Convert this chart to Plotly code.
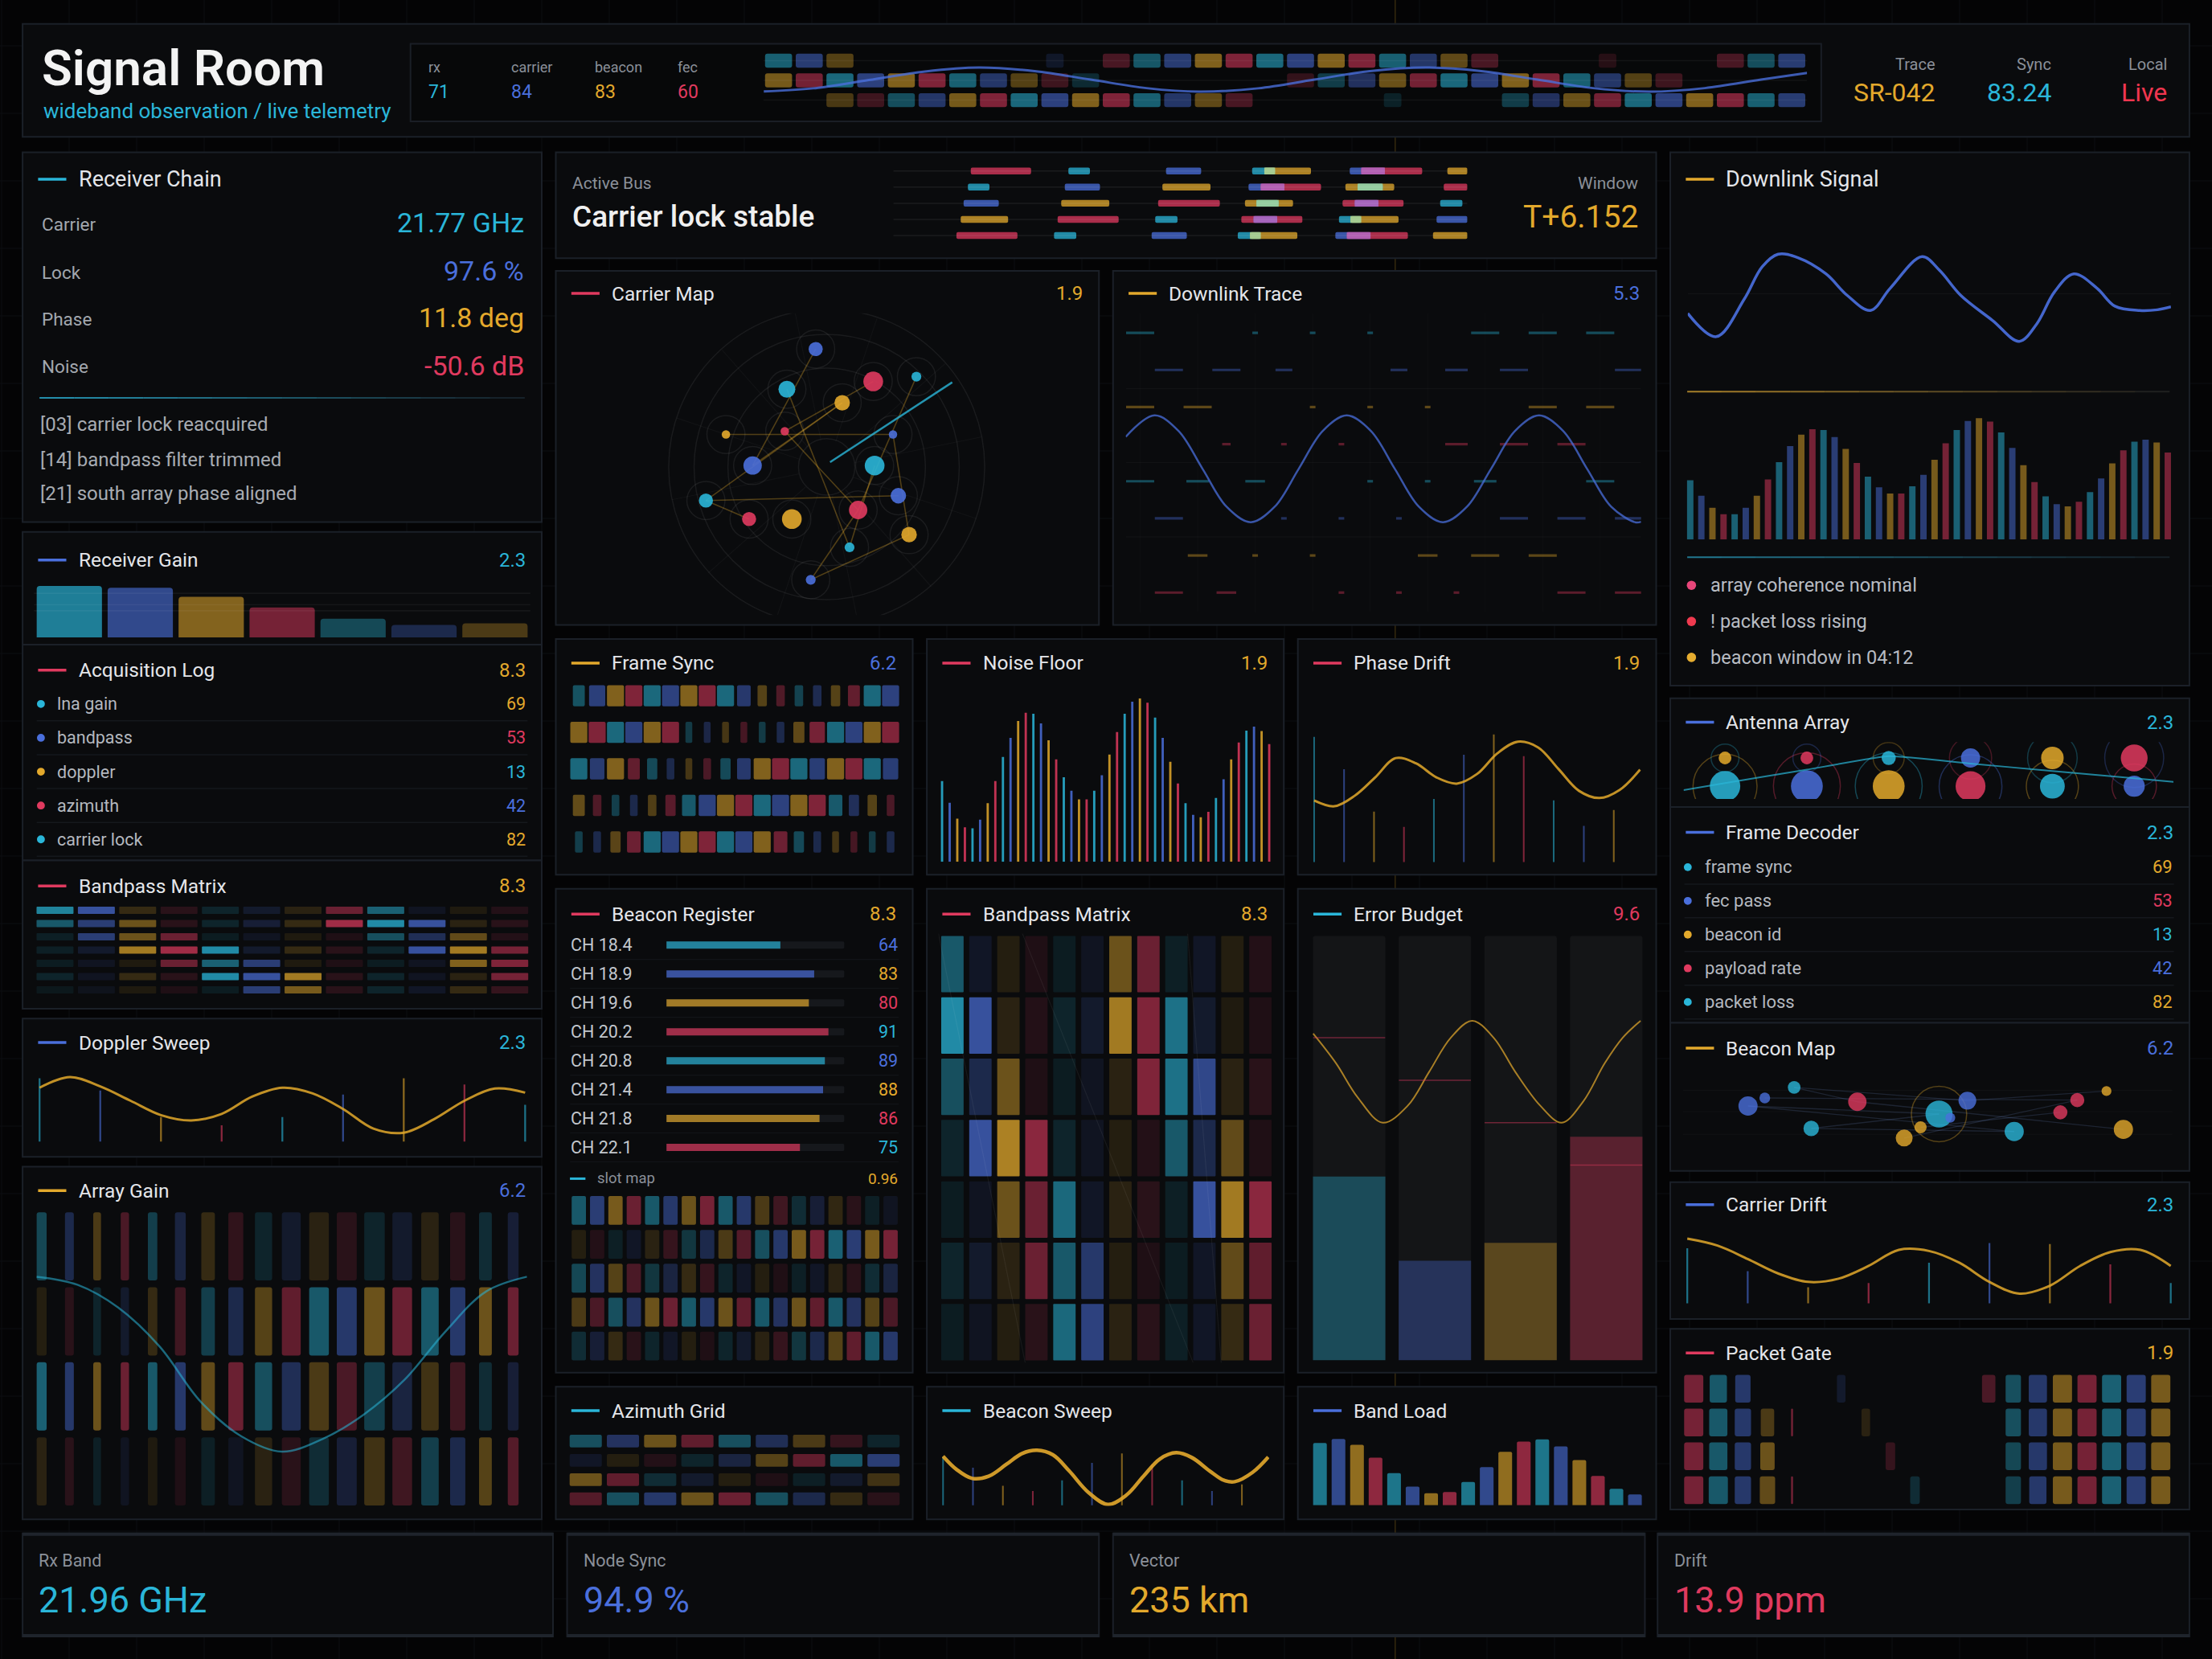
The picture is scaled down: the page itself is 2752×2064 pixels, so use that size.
import math
import plotly.graph_objects as go

W, H = 2752, 2064
S = W / 1568.0


def X(x):
    return x / 1568.0


def Y(y):
    return 1.0 - y / 1176.0


CY, BL, GD, RD = '#2ab6d9', '#4a6fdc', '#e3a92c', '#e03a5f'
PAL = [CY, BL, GD, RD]
TXT, MUTED, SOFT = '#e4e6ea', '#8b9099', '#b4b8bf'
FONT = 'Roboto'


def rgba(c, a):
    c = c.lstrip('#')
    return 'rgba(%d,%d,%d,%.3f)' % (int(c[0:2], 16), int(c[2:4], 16), int(c[4:6], 16), a)


# ============================ DATA ============================
header_labels = ['rx', 'carrier', 'beacon', 'fec']
header_values = ['71', '84', '83', '60']
meta_labels = ['Trace', 'Sync', 'Local']
meta_values = ['SR-042', '83.24', 'Live']

strip_r0 = [.5, .5, .35, 0, 0, 0, 0, 0, 0, .15, 0, .3, .45, .5, .55, .55, .55, .55, .55, .55, .5, .45, .4, .3, 0, 0, 0, .15, 0, 0, 0, .3, .4, .5]
strip_r1 = [.5, .5, .55, .55, .55, .55, .5, .45, .35, .25, .2, 0, 0, 0, 0, 0, 0, .2, .3, .4, .45, .5, .55, .55, .55, .55, .5, .45, .35, .25, 0, 0, 0, 0]
strip_r2 = [0, 0, .3, .25, .4, .45, .5, .55, .55, .55, .55, .55, .5, .45, .4, .3, 0, 0, 0, 0, .15, 0, 0, 0, .3, .4, .45, .5, .55, .55, .55, .55, .5, .5]
strip_wave_x = [-0.48, 1.13, 2.94, 4.77, 6.53, 8.34, 10.17, 11.98, 13.70, 15.62, 17.45, 19.26, 21.08, 22.89, 24.72, 26.53, 28.36, 30.17, 32.0, 33.5]
strip_wave_y = [1.56, 1.40, 0.98, 0.55, 0.35, 0.53, 0.96, 1.39, 1.57, 1.40, 0.96, 0.53, 0.35, 0.53, 0.96, 1.39, 1.57, 1.39, 0.96, 0.62]

rc_labels = ['Carrier', 'Lock', 'Phase', 'Noise']
rc_values = ['21.77 GHz', '97.6 %', '11.8 deg', '-50.6 dB']
rc_log = ['[03] carrier lock reacquired', '[14] bandpass filter trimmed', '[21] south array phase aligned']

gain_levels = [91, 88, 72, 53, 33, 22, 25]
gain_alpha = [0.68, 0.62, 0.56, 0.5, 0.36, 0.3, 0.3]

acq_labels = ['lna gain', 'bandpass', 'doppler', 'azimuth', 'carrier lock']
acq_values = [69, 53, 13, 42, 82]

bp_left = [
    [.7, .7, .2, .15, .15, .15, .15, .45, .5, .1, .1, .12],
    [.45, .5, .45, .15, .15, .2, .2, .7, .75, .7, .15, .15],
    [.12, .5, .45, .45, .1, .1, .1, .1, .4, .35, .4, .12],
    [.12, .15, .7, .7, .75, .15, .2, .15, .15, .7, .7, .5],
    [.1, .1, .1, .45, .5, .5, .1, .1, .1, .1, .55, .55],
    [.15, .1, .2, .15, .75, .7, .7, .15, .15, .1, .15, .5],
    [.08, .08, .1, .1, .1, .5, .5, .15, .15, .12, .2, .2],
]

doppler_wave = [122, 148, 125, 90, 55, 42, 58, 100, 122, 108, 70, 22, 12, 45, 90, 120, 110]
doppler_spikes = [145, 115, 50, 30, 50, 105, 145, 130, 80]

ag_widths = [0.36, 0.32, 0.28, 0.30, 0.34, 0.39, 0.49, 0.54, 0.62, 0.68, 0.71, 0.72, 0.74, 0.71, 0.63, 0.55, 0.46, 0.39]
ag_alpha = [
    [.35, .3, .3, .3, .3, .25, .2, .18, .15, .15, .15, .15, .15, .15, .15, .15, .2, .2],
    [.12, .15, .15, .15, .2, .25, .3, .3, .35, .4, .45, .45, .45, .45, .45, .45, .45, .45],
    [.5, .45, .45, .45, .45, .45, .4, .45, .4, .35, .3, .3, .3, .25, .25, .25, .2, .2],
    [.15, .15, .12, .1, .1, .1, .12, .1, .15, .15, .2, .2, .25, .25, .3, .3, .35, .35],
]
ag_wave_x = [-0.18, 1.29, 2.76, 4.25, 5.72, 7.19, 8.66, 10.14, 11.61, 13.08, 14.55, 16.03, 17.5]
ag_wave_y = [0.405, 0.512, 0.816, 1.334, 2.065, 2.53, 2.736, 2.566, 2.243, 1.78, 1.138, 0.6, 0.405]

bus_start = [
    [108, 244, 380, 500, 517, 636, 652, 772],
    [104, 239, 375, 495, 512, 630, 647, 767],
    [98, 234, 369, 490, 506, 626, 643, 762],
    [94, 229, 365, 485, 502, 621, 637, 757],
    [88, 224, 360, 480, 497, 616, 632, 752],
]
bus_end = [
    [192, 274, 429, 532, 582, 685, 737, 800],
    [134, 288, 442, 545, 596, 698, 682, 800],
    [147, 301, 455, 557, 537, 711, 676, 793],
    [160, 314, 396, 570, 535, 652, 704, 800],
    [173, 255, 409, 512, 563, 665, 717, 800],
]
bus_color = [
    [3, 0, 1, 0, 2, 1, 3, 2],
    [0, 1, 2, 1, 3, 2, 0, 3],
    [1, 2, 3, 2, 0, 3, 1, 0],
    [2, 3, 0, 3, 1, 0, 2, 1],
    [3, 0, 1, 0, 2, 1, 3, 2],
]

cm_x = [-7.8, -28.2, 33, 63.6, 11, -71.4, -29.7, 47, -52.5, 34, -85.6, 50.8, -55, -24.7, 22.3, 58.4, 16.2, -11.3]
cm_y = [80.6, 52.1, 57.6, 61, 42.5, 20, 22.3, 20, -2, -2, -26.8, -23.4, -39.9, -39.9, -33.5, -51, -60, -83]
cm_r = [5, 6, 7, 3.5, 5.5, 3, 3, 3, 6.5, 7, 5, 5.5, 5, 7, 6.5, 5.5, 3.5, 3.5]
cm_c = [1, 0, 3, 0, 2, 2, 3, 1, 1, 0, 0, 1, 3, 2, 3, 2, 0, 1]
cm_edges = [(0, 8), (1, 16), (5, 7), (10, 11), (10, 12), (6, 14), (4, 10), (2, 6), (3, 14), (7, 15), (14, 17), (15, 17), (4, 8), (9, 16)]
cm_link_x = [2.4, 89]
cm_link_y = [0.4, 57]

dt_ticks = [
    [1, 0, 0.15, 0.15, 0.15, 0, 1, 1, 1],
    [1, 1, 0.6, 0, 0.6, 0.8, 1, 0, 1],
    [1, 1, 0, 0.15, 0.15, 0.15, 0, 1, 1],
    [0, 0.3, 0.2, 0.2, 0, 0.8, 1, 1, 0],
    [1, 0.8, 0.7, 0, 0.2, 0.2, 0.8, 0, 1],
    [1, 0, 0.2, 0.2, 0.2, 0, 1, 1, 1],
    [0, 0.7, 0.2, 0.2, 0, 0.7, 1, 1, 0],
    [1, 0.7, 0, 0.2, 0.2, 0.2, 0, 1, 1],
]
dt_wave_x = [0, 5.58, 10.24, 14.91, 19.57, 24.24, 28.90, 33.56, 38.23, 42.89, 47.56, 52.22, 56.89, 61.55, 66.21, 70.88, 75.54, 80.21, 84.87, 89.53, 94.20, 98.86, 100]
dt_wave_y = [0.6, 1, .71, 0, -.71, -1, -.71, 0, .71, 1, .71, 0, -.71, -1, -.71, 0, .71, 1, .71, 0, -.71, -1, -.99]

dl_x = [0, 5.9, 11.7, 15.4, 18.7, 22.8, 28.6, 33, 37.8, 41.9, 48.5, 52.1, 56.5, 63.1, 68.6, 72.2, 75.9, 79.9, 84.7, 88.4, 93.5, 97.2, 100]
dl_y = [90, 25, 130, 220, 255, 245, 200, 140, 98, 160, 248, 210, 140, 70, 12, 60, 150, 200, 160, 110, 98, 100, 108]
dl_bars = [165, 122, 88, 70, 70, 88, 122, 167, 215, 260, 292, 307, 305, 285, 252, 213, 175, 145, 128, 128, 148, 180,
           222, 268, 305, 330, 338, 328, 298, 255, 207, 160, 120, 98, 92, 105, 132, 170, 212, 248, 272, 278, 270, 242]
alerts = ['array coherence nominal', '! packet loss rising', 'beacon window in 04:12']
alert_colors = ['#e8467a', '#f03a4f', '#e6ad30']

fs_w = [
    [0.7, 0.95, 1, 1, 1, 1, 1, 1, 1, 0.8, 0.55, 0.5, 0.5, 0.5, 0.55, 0.7, 1, 1],
    [1, 1, 1, 1, 1, 1, 0.4, 0.4, 0.4, 0.4, 0.4, 0.45, 0.65, 0.9, 1, 1, 1, 1],
    [1, 0.85, 1, 0.7, 0.6, 0.45, 0.4, 0.45, 0.6, 0.8, 1, 1, 1, 0.9, 1, 1, 1, 0.9],
    [0.7, 0.5, 0.45, 0.45, 0.5, 0.6, 0.8, 1, 1, 1, 1, 1, 1, 1, 0.8, 0.6, 0.55, 0.45],
    [0.45, 0.45, 0.6, 0.8, 1, 1, 1, 1, 1, 1, 1, 0.8, 0.6, 0.45, 0.4, 0.4, 0.4, 0.45],
]

noise_levels = [168, 123, 90, 72, 70, 88, 122, 168, 218, 258, 293, 310, 308, 288, 253, 213, 176, 148, 130, 130, 148, 180,
                223, 270, 308, 333, 340, 331, 300, 258, 208, 163, 122, 98, 93, 104, 133, 172, 213, 248, 273, 281, 272, 245]

pd_wave = [140, 128, 150, 188, 228, 217, 188, 175, 195, 238, 262, 250, 205, 160, 145, 162, 204]
pd_spike_x = [0, 1.47, 2.94, 4.41, 5.88, 7.35, 8.82, 10.29, 11.76, 13.24, 14.71]
pd_spike_h = [272, 205, 117, 85, 143, 235, 277, 232, 140, 87, 120]

br_labels = ['CH 18.4', 'CH 18.9', 'CH 19.6', 'CH 20.2', 'CH 20.8', 'CH 21.4', 'CH 21.8', 'CH 22.1']
br_values = [64, 83, 80, 91, 89, 88, 86, 75]
slot_alpha = [
    [.45, .5, .5, .45, .45, .45, .45, .5, .45, .45, .3, .25, .2, .2, .18, .15, .12, .1],
    [.12, .12, .12, .12, .15, .2, .25, .3, .3, .35, .4, .45, .5, .5, .5, .5, .5, .5],
    [.35, .4, .35, .3, .25, .25, .2, .2, .15, .12, .12, .1, .12, .12, .15, .15, .2, .25],
    [.3, .3, .4, .4, .45, .45, .45, .45, .45, .4, .45, .4, .45, .4, .45, .4, .35, .3],
    [.2, .2, .2, .15, .15, .12, .12, .1, .15, .15, .15, .2, .25, .3, .35, .4, .45, .45],
]

bp_center = [
    [.45, .12, .12, .1, .1, .1, .45, .45, .12, .12, .12, .12],
    [.75, .7, .15, .12, .15, .15, .7, .55, .6, .15, .1, .1],
    [.4, .3, .45, .1, .1, .1, .15, .55, .6, .6, .15, .15],
    [.15, .7, .75, .6, .15, .1, .12, .12, .45, .3, .4, .1],
    [.1, .1, .45, .45, .55, .12, .15, .15, .12, .7, .7, .6],
    [.15, .15, .15, .45, .45, .45, .12, .1, .1, .12, .4, .4],
    [.1, .1, .12, .15, .55, .55, .15, .15, .12, .12, .2, .45],
]

eb_fill = [43.3, 23.5, 27.7, 52.7]
eb_limit = [76, 66, 56, 46]
eb_wave_x = [-0.42, -0.153, 0.098, 0.391, 0.683, 0.934, 1.185, 1.436, 1.686, 1.937, 2.23, 2.48, 2.731, 2.982, 3.191, 3.40]
eb_wave_y = [77, 70, 62, 56, 60, 68, 76, 80, 76, 68, 60, 56, 61, 70, 76, 80]

az_alpha = [
    [.4, .4, .45, .4, .4, .35, .3, .2, .15],
    [.12, .12, .12, .15, .25, .35, .4, .45, .5],
    [.45, .4, .2, .15, .12, .1, .12, .15, .25],
    [.35, .4, .45, .45, .45, .4, .3, .2, .15],
]

bs_wave_x = [0, 4.2, 9.0, 14.0, 19.5, 24.3, 28.9, 33.8, 38.8, 44.7, 50.7, 56.4, 61.6, 66.7, 71.7, 76.5, 82.0, 86.4, 89.7, 95.2, 100]
bs_wave_y = [215, 165, 132, 140, 185, 225, 237, 220, 160, 80, 35, 70, 140, 205, 228, 210, 160, 125, 120, 155, 212]
bs_spike_x = [0, 9.2, 18.4, 27.6, 36.6, 45.8, 55.0, 64.3, 73.5, 82.7, 91.9]
bs_spike_h = [210, 172, 105, 85, 125, 190, 225, 185, 125, 85, 110]

band_load = [233, 248, 226, 178, 120, 70, 45, 50, 87, 143, 200, 238, 246, 220, 169, 110, 62, 41]

ant_big_r = [10.8, 11.3, 11.3, 10.6, 8.8, 7.5]
ant_small_r = [4.5, 4.5, 5.0, 6.8, 8.0, 9.5]
ant_big_c = [0, 1, 2, 3, 0, 1]
ant_small_c = [2, 3, 0, 1, 2, 3]
ant_line_x = [-0.507, 0, 1, 2, 3, 4, 5, 5.48]
ant_line_y = [0.11, 0.195, 0.359, 0.524, 0.433, 0.343, 0.253, 0.209]

fd_labels = ['frame sync', 'fec pass', 'beacon id', 'payload rate', 'packet loss']
fd_values = [69, 53, 13, 42, 82]

bm_x = [46.1, 58.0, 78.8, 90.9, 123.6, 156.8, 168.4, 181.5, 189.5, 201.6, 234.8, 267.5, 279.5, 300.2, 312.2]
bm_y = [38.0, 43.7, 51.2, 22.1, 41.0, 15.3, 22.9, 32.3, 29.7, 41.8, 19.9, 33.5, 42.2, 48.6, 21.4]
bm_r = [6.8, 3.8, 4.5, 5.5, 6.5, 6.0, 4.3, 9.6, 3.5, 6.3, 6.8, 5.0, 5.0, 3.5, 6.8]
bm_c = [1, 1, 0, 0, 3, 2, 2, 0, 1, 1, 0, 3, 3, 2, 2]
bm_edges = [(0, 10), (1, 12), (2, 9), (3, 7), (4, 14), (2, 4), (9, 13), (6, 11), (3, 10), (0, 7), (5, 12)]

cd_wave = [133, 120, 95, 68, 52, 58, 82, 112, 110, 88, 52, 30, 45, 82, 108, 112, 82]
cd_spikes = [115, 72, 42, 50, 88, 125, 123, 85, 50]

pg_w = [
    [1, 0.9, 0.8, 0, 0, 0, 0.45, 0, 0, 0, 0, 0, 0.7, 0.8, 0.95, 1, 1, 1, 1, 1],
    [1, 0.95, 0.85, 0.7, 0.1, 0, 0, 0.45, 0, 0, 0, 0, 0, 0.8, 0.95, 1, 1, 1, 1, 1],
    [1, 0.95, 0.85, 0.75, 0, 0, 0, 0, 0.5, 0, 0, 0, 0, 0.8, 0.95, 1, 1, 1, 1, 1],
    [1, 1, 0.85, 0.8, 0.1, 0, 0, 0, 0, 0.5, 0, 0, 0, 0.8, 0.9, 1, 1, 1, 1, 1],
]
pg_a = [
    [.5, .45, .45, 0, 0, 0, .15, 0, 0, 0, 0, 0, .3, .4, .45, .5, .5, .5, .5, .5],
    [.5, .45, .45, .3, .5, 0, 0, .15, 0, 0, 0, 0, 0, .4, .45, .5, .5, .5, .5, .5],
    [.5, .45, .45, .45, 0, 0, 0, 0, .2, 0, 0, 0, 0, .35, .45, .5, .5, .5, .5, .5],
    [.5, .45, .45, .4, .5, 0, 0, 0, 0, .2, 0, 0, 0, .3, .45, .5, .5, .5, .5, .5],
]

kpi_labels = ['Rx Band', 'Node Sync', 'Vector', 'Drift']
kpi_values = ['21.96 GHz', '94.9 %', '235 km', '13.9 ppm']

# ============================ BUILD ============================
traces, shapes, annotations = [], [], []
layout = {}
naxes = [0]


def add_axes(x0, y0, x1, y1, xr, yr):
    naxes[0] += 1
    n = naxes[0]
    sfx = '' if n == 1 else str(n)
    layout['xaxis' + sfx] = dict(domain=[X(x0), X(x1)], range=xr, anchor='y' + sfx, visible=False, fixedrange=True)
    layout['yaxis' + sfx] = dict(domain=[Y(y1), Y(y0)], range=yr, anchor='x' + sfx, visible=False, fixedrange=True)
    return ('x' + sfx, 'y' + sfx)


def rect(x0, y0, x1, y1, fill, line=None, lw=0, layer='below'):
    shapes.append(dict(type='rect', xref='paper', yref='paper', x0=X(x0), x1=X(x1), y0=Y(y1), y1=Y(y0),
                       fillcolor=fill, line=dict(color=line or 'rgba(0,0,0,0)', width=lw), layer=layer))


def seg(x0, y0, x1, y1, color, w, layer='above'):
    shapes.append(dict(type='line', xref='paper', yref='paper', x0=X(x0), x1=X(x1), y0=Y(y0), y1=Y(y1),
                       line=dict(color=color, width=w), layer=layer))


def dot(x, y, r, color):
    shapes.append(dict(type='circle', xref='paper', yref='paper', x0=X(x - r), x1=X(x + r), y0=Y(y + r), y1=Y(y - r),
                       fillcolor=color, line=dict(width=0), layer='above'))


def text(x, y, s, size, color, anchor='left', weight=None):
    f = dict(family=FONT, size=size, color=color)
    if weight:
        f['weight'] = weight
    annotations.append(dict(xref='paper', yref='paper', x=X(x), y=Y(y), text=s, showarrow=False,
                            xanchor=anchor, yanchor='middle', font=f, borderpad=0))


def panel(x0, y0, x1, y1, fill='#0a0b0d', border='#1b2028'):
    rect(x0, y0, x1, y1, fill, border, 2)


def head(x0, y0, x1, name, dash, value=None, vcolor=None, dy=18, size=24.5):
    y = y0 + dy
    seg(x0 + 11, y, x0 + 31, y, dash, 3.5)
    text(x0 + 39, y, name, size, TXT)
    if value is not None:
        text(x1 - 11, y, value, 24, vcolor, anchor='right')


def fade_line(x0, x1, y, color, a0=0.8, n=14, w=2):
    seg(x0, y, x1, y, '#161a20', w)
    step = (x1 - x0) / n
    for i in range(n):
        seg(x0 + i * step, y, x0 + (i + 1) * step, y, rgba(color, a0 * (1 - i / n)), w)


def bars(ax, x, y, base=None, width=None, colors=None, orientation='v', radius=0):
    traces.append(go.Bar(x=x, y=y, base=base, width=width, orientation=orientation,
                         marker=dict(color=colors, line=dict(width=0), cornerradius=radius),
                         xaxis=ax[0], yaxis=ax[1], hoverinfo='skip', showlegend=False))


def lines(ax, x, y, color, width, shape='spline', smoothing=1.0):
    traces.append(go.Scatter(x=x, y=y, mode='lines', line=dict(color=color, width=width, shape=shape, smoothing=smoothing),
                             xaxis=ax[0], yaxis=ax[1], hoverinfo='skip', showlegend=False))


def grid_tiles(ax, alphas, offsets, wfac, hfac, widths=None, radius=2):
    xs, ys, bs, ws, cs = [], [], [], [], []
    for r, row in enumerate(alphas):
        for c, a in enumerate(row):
            if a <= 0:
                continue
            wf = widths[r][c] if widths is not None else 1.0
            if wf <= 0:
                continue
            xs.append(c)
            bs.append(r - hfac / 2)
            ys.append(hfac)
            ws.append(wfac * wf)
            cs.append(rgba(PAL[(c + offsets[r]) % 4], a))
    bars(ax, xs, ys, base=bs, width=ws, colors=cs, radius=radius)


def spikes(ax, xs, tops, base, width, alpha=0.6):
    bars(ax, xs, [t - base for t in tops], base=[base] * len(xs), width=width,
         colors=[rgba(PAL[i % 4], alpha) for i in range(len(xs))])


# ---------- background grid ----------
for k in range(34):
    xx = (2 + 84 * k) / S
    seg(xx, 0, xx, 1176, '#0d0f12', 1, layer='below')
for k in range(25):
    yy = (57 + 84 * k) / S
    seg(0, yy, 1568, yy, '#0d0f12', 1, layer='below')
seg(989, 0, 989, 1176, 'rgba(227,169,44,0.22)', 1.5, layer='below')

# ---------- panels ----------
panel(16, 17, 1552, 97)
panel(291, 31, 1291, 86, fill='#070809', border='#1a1e26')
panel(16, 108, 384, 370)
panel(16, 377, 384, 457)
panel(16, 457, 384, 610)
panel(16, 610, 384, 715)
panel(16, 722, 384, 820)
panel(16, 827, 384, 1077)
panel(394, 108, 1174, 183)
panel(394, 192, 779, 443)
panel(789, 192, 1174, 443)
panel(394, 453, 647, 620)
panel(657, 453, 910, 620)
panel(920, 453, 1174, 620)
panel(394, 630, 647, 973)
panel(657, 630, 910, 973)
panel(920, 630, 1174, 973)
panel(394, 983, 647, 1077)
panel(657, 983, 910, 1077)
panel(920, 983, 1174, 1077)
panel(1184, 108, 1552, 486)
panel(1184, 495, 1552, 572)
panel(1184, 572, 1552, 725)
panel(1184, 725, 1552, 830)
panel(1184, 838, 1552, 935)
panel(1184, 942, 1552, 1070)
kpi_boxes = [(16, 392), (402, 779), (789, 1166), (1175, 1552)]
for (a, b) in kpi_boxes:
    panel(a, 1087, b, 1160)
    seg(a, 1087.5, b, 1087.5, '#1f242c', 4, layer='below')
    seg(a, 1159.5, b, 1159.5, '#1f242c', 4, layer='below')

# ---------- header ----------
text(29, 48, 'Signal Room', 62, '#f3f3f3', weight=600)
text(30, 78.6, 'wideband observation / live telemetry', 26, CY)
for i, (lab, val) in enumerate(zip(header_labels, header_values)):
    hx = [303, 362, 421, 480][i]
    text(hx, 47.5, lab, 18, MUTED)
    text(hx, 65, val, 23, PAL[i])
for i, (lab, val) in enumerate(zip(meta_labels, meta_values)):
    hx = [1372.6, 1454.7, 1536.7][i]
    text(hx, 45.3, lab, 20, MUTED, anchor='right')
    text(hx, 65.5, val, 32, [GD, CY, '#f0364f'][i], anchor='right')

ax = add_axes(541, 36, 1281, 78, [-0.5, 33.5], [2.5, -0.5])
strip = [strip_r0, strip_r1, strip_r2]
strip_w = [[1.0 if a >= 0.2 else 0.65 for a in row] for row in strip]
for r in range(3):
    lines(ax, [-0.5, 33.5], [r, r], 'rgba(255,255,255,0.05)', 1.5, shape='linear')
grid_tiles(ax, strip, [0, 2, 0], 0.88, 0.71, widths=strip_w, radius=3)
lines(ax, strip_wave_x, strip_wave_y, rgba(BL, 0.8), 3)

# ---------- receiver chain ----------
head(16, 108, 384, 'Receiver Chain', CY, dy=19, size=27)
for i, (lab, val) in enumerate(zip(rc_labels, rc_values)):
    yy = [159, 193, 226, 260][i]
    text(29, yy, lab, 22.5, '#a2a7ae')
    text(372, yy - 1, val, 34, PAL[i], anchor='right')
fade_line(28, 372, 282, CY, a0=0.75)
for i, s in enumerate(rc_log):
    text(28, [301, 326, 350][i], s, 24, '#a7abb2')

# ---------- receiver gain ----------
head(16, 380, 384, 'Receiver Gain', BL, '2.3', CY, dy=17)
ax = add_axes(24, 411.8, 376, 451.8, [-0.5, 6.5], [0, 100])
bars(ax, list(range(7)), gain_levels, width=0.92,
     colors=[rgba(PAL[i % 4], gain_alpha[i]) for i in range(7)], radius=4)
for lv in [78, 58, 47]:
    lines(ax, [-0.5, 6.5], [lv, lv], 'rgba(255,255,255,0.07)', 1.2, shape='linear')

# ---------- acquisition log ----------
head(16, 457, 384, 'Acquisition Log', RD, '8.3', GD, dy=18)
for i, (lab, val) in enumerate(zip(acq_labels, acq_values)):
    yy = 499 + 24 * i
    dot(29, yy, 2.8, PAL[i % 4])
    text(40, yy, lab, 21.5, SOFT)
    text(373, yy, str(val), 21.5, PAL[(i + 2) % 4], anchor='right')
    seg(26, yy + 12, 374, yy + 12, '#15181d', 1.5)

# ---------- bandpass matrix (left) ----------
head(16, 610, 384, 'Bandpass Matrix', RD, '8.3', GD, dy=18)
ax = add_axes(24.35, 640.6, 376, 706.4, [-0.5, 11.5], [6.5, -0.5])
grid_tiles(ax, bp_left, [0] * 7, 0.894, 0.55, radius=1)

# ---------- doppler sweep ----------
head(16, 722, 384, 'Doppler Sweep', BL, '2.3', CY, dy=17)
ax = add_axes(25.9, 760, 374.4, 809.3, [-0.1, 16.1], [-10, 160])
spikes(ax, list(range(0, 17, 2)), doppler_spikes, -10, 0.06, 0.6)
lines(ax, list(range(17)), doppler_wave, rgba(GD, 0.85), 3)

# ---------- array gain ----------
head(16, 827, 384, 'Array Gain', GD, '6.2', BL, dy=17)
ax = add_axes(19.7, 856.9, 373.6, 1069.6, [-0.5, 17.5], [3.5, -0.5])
grid_tiles(ax, ag_alpha, [0, 2, 0, 2], 1.0, 0.91, widths=[ag_widths] * 4, radius=3)
lines(ax, ag_wave_x, ag_wave_y, rgba(CY, 0.55), 2.5)

# ---------- active bus ----------
text(405, 130, 'Active Bus', 21, MUTED)
text(405, 153.8, 'Carrier lock stable', 37, '#f0f0f0', weight=500)
text(1161.8, 130, 'Window', 21, MUTED, anchor='right')
text(1161.8, 153.8, 'T+6.152', 39, GD, anchor='right')
ax = add_axes(633.2, 115.5, 1040.2, 172.7, [0, 800], [4.5, -0.5])
for r in range(5):
    lines(ax, [0, 800], [r, r], 'rgba(255,255,255,0.07)', 1.5, shape='linear')
for r in range(5):
    st, en, co = bus_start[r], bus_end[r], bus_color[r]
    bars(ax, [e - s for s, e in zip(st, en)], [r] * len(st), base=st, width=0.42,
         colors=[rgba(PAL[c], 0.75) for c in co], orientation='h', radius=2)
    ox, oy, ob, oc = [], [], [], []
    for i in range(len(st)):
        for j in range(i + 1, len(st)):
            a0, a1 = max(st[i], st[j]), min(en[i], en[j])
            if a1 > a0:
                c1, c2 = PAL[co[i]].lstrip('#'), PAL[co[j]].lstrip('#')
                mix = [min(255, int((int(c1[k:k + 2], 16) + int(c2[k:k + 2], 16)) / 2 * 1.2)) for k in (0, 2, 4)]
                ox.append(a1 - a0)
                oy.append(r)
                ob.append(a0)
                oc.append('rgba(%d,%d,%d,0.85)' % tuple(mix))
    if ox:
        bars(ax, ox, oy, base=ob, width=0.42, colors=oc, orientation='h')

# ---------- carrier map ----------
head(394, 192, 779, 'Carrier Map', RD, '1.9', GD, dy=16)
ax = add_axes(400, 222, 773, 436, [-186, 187], [-108, 106])
for k in range(12):
    ang = k * math.pi / 6 + 0.2
    shapes.append(dict(type='line', xref=ax[0], yref=ax[1], x0=20 * math.cos(ang), y0=20 * math.sin(ang) - 4,
                       x1=112 * math.cos(ang), y1=112 * math.sin(ang) - 4,
                       line=dict(color='rgba(255,255,255,0.035)', width=1.2), layer='below'))
for rr in [112, 94, 70, 20]:
    shapes.append(dict(type='circle', xref=ax[0], yref=ax[1], x0=-rr, x1=rr, y0=-rr - 3, y1=rr - 3,
                       line=dict(color='rgba(255,255,255,0.065)', width=1.5), layer='below'))
ex, ey = [], []
for a, b in cm_edges:
    ex += [cm_x[a], cm_x[b], None]
    ey += [cm_y[a], cm_y[b], None]
traces.append(go.Scatter(x=ex, y=ey, mode='lines', line=dict(color=rgba(GD, 0.33), width=1.6),
                         xaxis=ax[0], yaxis=ax[1], hoverinfo='skip', showlegend=False))
traces.append(go.Scatter(x=cm_x, y=cm_y, mode='markers',
                         marker=dict(symbol='circle-open', size=2 * 13.5 * S, color='rgba(255,255,255,0.07)', line=dict(width=1.5)),
                         xaxis=ax[0], yaxis=ax[1], hoverinfo='skip', showlegend=False))
lines(ax, cm_link_x, cm_link_y, rgba(CY, 0.8), 2.5, shape='linear')
traces.append(go.Scatter(x=cm_x, y=cm_y, mode='markers',
                         marker=dict(size=[2 * r * S for r in cm_r], color=[PAL[c] for c in cm_c], opacity=0.9, line=dict(width=0)),
                         xaxis=ax[0], yaxis=ax[1], hoverinfo='skip', showlegend=False))

# ---------- downlink trace ----------
head(789, 192, 1174, 'Downlink Trace', GD, '5.3', BL, dy=16)
ax = add_axes(798, 222, 1163.3, 434, [0, 100], [7.53, -0.53])
for k in range(9):
    xv = 2.79 + 11.16 * k
    shapes.append(dict(type='line', xref=ax[0], yref=ax[1], x0=xv, x1=xv, y0=-0.53, y1=7.53,
                       line=dict(color='rgba(255,255,255,0.025)', width=1), layer='below'))
for rv in [1.5, 3.5, 5.5]:
    shapes.append(dict(type='line', xref=ax[0], yref=ax[1], x0=0, x1=100, y0=rv, y1=rv,
                       line=dict(color='rgba(255,255,255,0.045)', width=1), layer='below'))
for r, row in enumerate(dt_ticks):
    xs, ss = [], []
    for k, v in enumerate(row):
        if v <= 0:
            continue
        xs.append(2.79 + 11.16 * k + (5.58 if r % 2 else 0))
        ss.append(max(5, 25 * v))
    traces.append(go.Scatter(x=xs, y=[r] * len(xs), mode='markers',
                             marker=dict(symbol='line-ew', size=ss, line=dict(width=3.2, color=rgba(PAL[r % 4], 0.55))),
                             xaxis=ax[0], yaxis=ax[1], hoverinfo='skip', showlegend=False))
ax2 = add_axes(798, 222, 1163.3, 434, [0, 100], [-2.685, 2.915])
lines(ax2, dt_wave_x, dt_wave_y, rgba(BL, 0.75), 2.5)

# ---------- downlink signal ----------
head(1184, 108, 1552, 'Downlink Signal', GD, dy=19, size=27)
ax = add_axes(1196.4, 173.8, 1538.9, 245, [0, 100], [0, 280])
lines(ax, [0, 100], [145, 145], 'rgba(255,255,255,0.04)', 1.2, shape='linear')
lines(ax, dl_x, dl_y, rgba(BL, 0.92), 3.5)
fade_line(1196, 1538, 277.6, GD, a0=0.7)
ax = add_axes(1194.2, 293.3, 1540.6, 382.4, [-0.5, 43.5], [0, 350])
bars(ax, list(range(44)), dl_bars, width=0.575, colors=[rgba(PAL[i % 4], 0.5) for i in range(44)])
fade_line(1196, 1538, 395, CY, a0=0.6)
for i, s in enumerate(alerts):
    yy = [414.9, 440.5, 466][i]
    dot(1199, yy, 3.3, alert_colors[i])
    text(1212, yy, s, 23.5, '#b8bcc3')

# ---------- frame sync ----------
head(394, 453, 647, 'Frame Sync', GD, '6.2', BL, dy=17)
ax = add_axes(403.8, 480.25, 637.8, 609.75, [-0.5, 17.5], [4.5, -0.5])
fs_alpha = [[0.1 + 0.45 * w for w in row] for row in fs_w]
grid_tiles(ax, fs_alpha, [0, 2, 0, 2, 0], 0.93, 0.58, widths=fs_w, radius=2)

# ---------- noise floor ----------
head(657, 453, 910, 'Noise Floor', RD, '1.9', GD, dy=17)
ax = add_axes(665.1, 495, 902.4, 611, [-0.5, 43.5], [0, 340])
bars(ax, list(range(44)), noise_levels, width=0.3, colors=[rgba(PAL[i % 4], 0.85) for i in range(44)])

# ---------- phase drift ----------
head(920, 453, 1174, 'Phase Drift', RD, '1.9', GD, dy=17)
ax = add_axes(930.8, 519.6, 1163.3, 611.8, [-0.05, 16.05], [10, 280])
spikes(ax, pd_spike_x, pd_spike_h, 12, 0.08, 0.55)
lines(ax, list(range(17)), pd_wave, rgba(GD, 0.85), 3)

# ---------- beacon register ----------
head(394, 630, 647, 'Beacon Register', RD, '8.3', GD, dy=18)
ax = add_axes(472.4, 659.65, 598.6, 823.65, [0, 100], [7.5, -0.5])
bars(ax, [100] * 8, list(range(8)), width=0.25, colors=['#16181c'] * 8, orientation='h', radius=2)
bars(ax, br_values, list(range(8)), width=0.25, colors=[rgba(PAL[i % 4], 0.68) for i in range(8)], orientation='h', radius=2)
for i, (lab, val) in enumerate(zip(br_labels, br_values)):
    yy = 669.9 + 20.5 * i
    text(404, yy, lab, 21.5, '#c3c7cd')
    text(637, yy, str(val), 21.5, PAL[(i + 1) % 4], anchor='right')
    seg(404, yy + 10.2, 637, yy + 10.2, '#121418', 1.2)
seg(404, 835.5, 415, 835.5, CY, 3)
text(423, 835.5, 'slot map', 18.5, MUTED)
text(637, 835.5, '0.96', 19, GD, anchor='right')
ax = add_axes(403.8, 846, 637.8, 966.2, [-0.5, 17.5], [4.5, -0.5])
grid_tiles(ax, slot_alpha, [0, 2, 0, 2, 0], 0.78, 0.85, radius=2)

# ---------- bandpass matrix (center) ----------
head(657, 630, 910, 'Bandpass Matrix', RD, '8.3', GD, dy=18)
ax = add_axes(665.2, 661.7, 903.4, 966.1, [-0.5, 11.5], [6.5, -0.5])
grid_tiles(ax, bp_center, [0] * 7, 0.8, 0.92, radius=1)
for (a, b, c, d) in [(-0.5, -0.5, 2.6, 6.5), (2.5, -0.5, 8.6, 6.5), (8.4, -0.5, 9.6, 6.5)]:
    shapes.append(dict(type='line', xref=ax[0], yref=ax[1], x0=a, y0=b, x1=c, y1=d,
                       line=dict(color='rgba(255,255,255,0.06)', width=1.2), layer='above'))

# ---------- error budget ----------
head(920, 630, 1174, 'Error Budget', CY, '9.6', RD, dy=18)
ax = add_axes(926, 663.4, 1169, 964.4, [-0.5, 3.5], [0, 100])
bars(ax, [0, 1, 2, 3], [100] * 4, width=0.845, colors=['rgba(255,255,255,0.045)'] * 4, radius=3)
bars(ax, [0, 1, 2, 3], eb_fill, width=0.845, colors=[rgba(PAL[i], 0.34) for i in range(4)], radius=3)
for i, lv in enumerate(eb_limit):
    shapes.append(dict(type='line', xref=ax[0], yref=ax[1], x0=i - 0.42, x1=i + 0.42, y0=lv, y1=lv,
                       line=dict(color=rgba(RD, 0.45), width=1.5), layer='above'))
lines(ax, eb_wave_x, eb_wave_y, rgba(GD, 0.72), 2)

# ---------- azimuth grid ----------
head(394, 983, 647, 'Azimuth Grid', CY, dy=17)
ax = add_axes(402, 1014.7, 639.5, 1069.3, [-0.5, 8.5], [3.5, -0.5])
grid_tiles(ax, az_alpha, [0, 1, 2, 3], 0.865, 0.66, radius=2)

# ---------- beacon sweep ----------
head(657, 983, 910, 'Beacon Sweep', CY, dy=17)
ax = add_axes(667.8, 1025.6, 899.7, 1067.4, [-0.3, 100.3], [30, 250])
spikes(ax, bs_spike_x, bs_spike_h, 32, 0.5, 0.55)
lines(ax, bs_wave_x, bs_wave_y, rgba(GD, 0.9), 4.5)

# ---------- band load ----------
head(920, 983, 1174, 'Band Load', BL, dy=17)
ax = add_axes(929.1, 1019.6, 1165.5, 1067.1, [-0.5, 17.5], [0, 250])
bars(ax, list(range(18)), band_load, width=0.74, colors=[rgba(PAL[i % 4], 0.62) for i in range(18)], radius=2)

# ---------- antenna array ----------
head(1184, 495, 1552, 'Antenna Array', BL, '2.3', CY, dy=17)
ax = add_axes(1193.4, 526, 1540.7, 566.4, [-0.507, 5.48], [0, 0.697])
gx = list(range(6))
traces.append(go.Scatter(x=gx, y=[0.157] * 6, mode='markers',
                         marker=dict(symbol='circle-open', size=[2 * 2.1 * r * S for r in ant_big_r],
                                     color=[rgba(PAL[c], 0.5) for c in ant_small_c], line=dict(width=1.5)),
                         xaxis=ax[0], yaxis=ax[1], hoverinfo='skip', showlegend=False))
traces.append(go.Scatter(x=gx, y=[0.502] * 6, mode='markers',
                         marker=dict(symbol='circle-open', size=[2 * 2.2 * r * S for r in ant_small_r],
                                     color=[rgba(PAL[c], 0.4) for c in ant_big_c], line=dict(width=1.5)),
                         xaxis=ax[0], yaxis=ax[1], hoverinfo='skip', showlegend=False))
traces.append(go.Scatter(x=gx, y=[0.157] * 6, mode='markers',
                         marker=dict(size=[2 * r * S for r in ant_big_r], color=[PAL[c] for c in ant_big_c], opacity=0.85, line=dict(width=0)),
                         xaxis=ax[0], yaxis=ax[1], hoverinfo='skip', showlegend=False))
traces.append(go.Scatter(x=gx, y=[0.502] * 6, mode='markers',
                         marker=dict(size=[2 * r * S for r in ant_small_r], color=[PAL[c] for c in ant_small_c], opacity=0.85, line=dict(width=0)),
                         xaxis=ax[0], yaxis=ax[1], hoverinfo='skip', showlegend=False))
lines(ax, ant_line_x, ant_line_y, rgba(CY, 0.7), 2, shape='spline', smoothing=0.4)

# ---------- frame decoder ----------
head(1184, 572, 1552, 'Frame Decoder', BL, '2.3', CY, dy=18)
for i, (lab, val) in enumerate(zip(fd_labels, fd_values)):
    yy = 614.7 + 23.9 * i
    dot(1196.4, yy, 2.8, PAL[i % 4])
    text(1207.8, yy, lab, 22, SOFT)
    text(1540.7, yy, str(val), 22, PAL[(i + 2) % 4], anchor='right')
    seg(1194, yy + 12, 1541, yy + 12, '#15181d', 1.5)

# ---------- beacon map ----------
head(1184, 725, 1552, 'Beacon Map', GD, '6.2', BL, dy=18)
ax = add_axes(1193, 755, 1540, 822, [0, 347], [0, 67])
for lv in [49, 34, 18]:
    lines(ax, [0, 347], [lv, lv], 'rgba(255,255,255,0.035)', 1, shape='linear')
ex, ey = [], []
for a, b in bm_edges:
    ex += [bm_x[a], bm_x[b], None]
    ey += [bm_y[a], bm_y[b], None]
traces.append(go.Scatter(x=ex, y=ey, mode='lines', line=dict(color='rgba(110,140,200,0.2)', width=1.3),
                         xaxis=ax[0], yaxis=ax[1], hoverinfo='skip', showlegend=False))
traces.append(go.Scatter(x=[bm_x[7]], y=[bm_y[7]], mode='markers',
                         marker=dict(symbol='circle-open', size=2 * 19.6 * S, color=rgba(GD, 0.35), line=dict(width=1.5)),
                         xaxis=ax[0], yaxis=ax[1], hoverinfo='skip', showlegend=False))
traces.append(go.Scatter(x=bm_x, y=bm_y, mode='markers',
                         marker=dict(size=[2 * r * S for r in bm_r], color=[PAL[c] for c in bm_c], opacity=0.8, line=dict(width=0)),
                         xaxis=ax[0], yaxis=ax[1], hoverinfo='skip', showlegend=False))

# ---------- carrier drift ----------
head(1184, 838, 1552, 'Carrier Drift', BL, '2.3', CY, dy=16)
ax = add_axes(1193.9, 875.4, 1540.9, 924.6, [-0.1, 16.1], [10, 140])
spikes(ax, list(range(0, 17, 2)), cd_spikes, 12, 0.06, 0.6)
lines(ax, list(range(17)), cd_wave, rgba(GD, 0.85), 3)

# ---------- packet gate ----------
head(1184, 942, 1552, 'Packet Gate', RD, '1.9', GD, dy=17)
ax = add_axes(1191.9, 972.4, 1540.4, 1068.3, [-0.5, 19.5], [3.5, -0.5])
grid_tiles(ax, pg_a, [3, 3, 3, 3], 0.78, 0.82, widths=pg_w, radius=3)

# ---------- KPI footer ----------
for i, ((a, b), lab, val) in enumerate(zip(kpi_boxes, kpi_labels, kpi_values)):
    text(a + 11, 1106, lab, 21.5, MUTED)
    text(a + 11, 1134, val, 45, PAL[i])

layout.update(dict(width=W, height=H, margin=dict(l=0, r=0, t=0, b=0), paper_bgcolor='#040405',
                   plot_bgcolor='rgba(0,0,0,0)', barmode='overlay', showlegend=False,
                   shapes=shapes, annotations=annotations, font=dict(family=FONT)))
fig = go.Figure(data=traces, layout=go.Layout(**layout))
fig.write_html('out.html', config={'displayModeBar': False})
